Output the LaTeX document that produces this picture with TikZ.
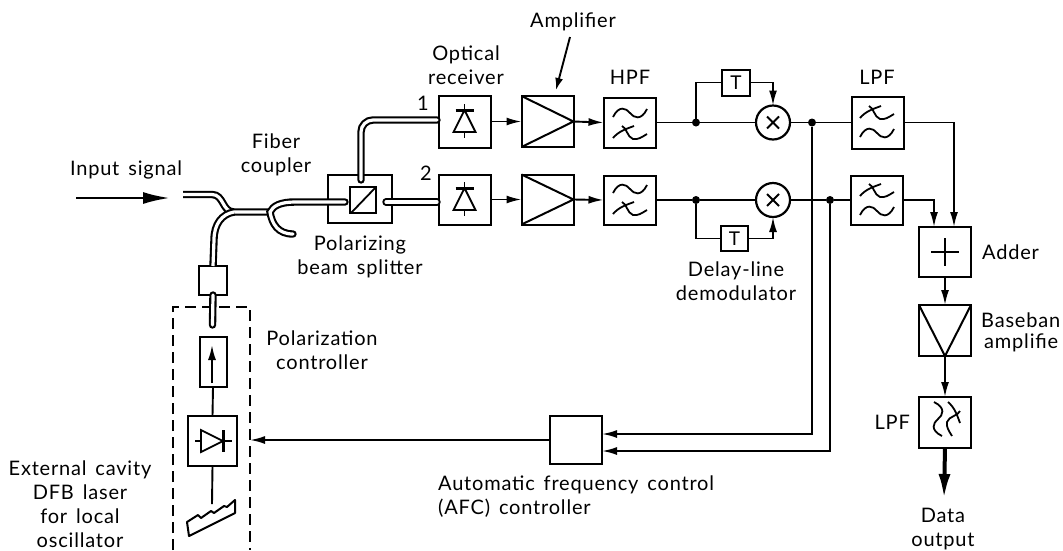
\documentclass[tikz,border=0pt]{standalone}
\usepackage{fontspec}
\setmainfont{Lato}[LetterSpace=4,WordSpace=1.5]
\usetikzlibrary{arrows.meta,calc}
\tikzset{
  x=1pt,y=-1pt,
  blk/.style={draw,line width=2pt,inner sep=0pt,outer sep=0pt,minimum width=#1},
  blk/.default=52pt,
  mix/.style={draw,circle,line width=2.2pt,inner sep=0pt,outer sep=0pt,minimum size=34pt},
  wire/.style={line width=1.9pt},
  sym/.style={line width=1.8pt},
  arr/.style={wire,-{Latex[length=15pt,width=8pt]}},
  dotn/.style={circle,fill=black,inner sep=0pt,outer sep=0pt,minimum size=8pt},
  fiber/.style={double=white,double distance=3.2pt,line width=2.1pt},
  fibercap/.style={fiber,line cap=round},
  lab/.style={font=\fontsize{20}{24}\selectfont,inner sep=0pt,align=center},
  dashbox/.style={line width=1.9pt,dash pattern=on 11pt off 6pt}
}
\newcommand{\rxsym}[2]{\begin{scope}[shift={(#1,#2)},sym]
  \draw (0,-18)--(0,16);
  \draw[fill=white] (-11,10)--(11,10)--(0,-12)--cycle;
  \draw[line width=3pt] (-9,-12)--(9,-12);
\end{scope}}
\newcommand{\wavesym}[2]{\begin{scope}[shift={(#1,#2)},sym]
  \draw (-17,4) .. controls (-11,-8) and (-4,-5) .. (0,0) .. controls (4,5) and (11,8) .. (17,-4);
\end{scope}}
\newcommand{\wavecross}[2]{\begin{scope}[shift={(#1,#2)},sym]
  \draw (-17,5) .. controls (-11,-2) and (-4,-4) .. (4,-7);
  \draw (-8,-7) .. controls (-3,-5) and (-3,4) .. (3,6) .. controls (8,7) and (12,4) .. (17,1);
\end{scope}}
\begin{document}
\begin{tikzpicture}
\useasboundingbox (0,0) rectangle (1063,550);
% --- blocks
\node[blk,minimum height=52pt] (rx1) at (464.5,121.5) {};
\node[blk,minimum height=51pt] (am1) at (547.5,121.5) {};
\node[blk,minimum height=50pt] (hp1) at (629.5,122.5) {};
\node[blk=28pt,minimum height=26pt,font=\fontsize{19}{19}\selectfont] (t1) at (736,82.5) {T};
\node[mix] (m1) at (773,122.5) {};
\node[blk,minimum height=52pt] (lp1) at (877.5,122.5) {};
\node[blk,minimum height=50pt] (rx2) at (464.5,199.5) {};
\node[blk,minimum height=50pt] (am2) at (547.5,199.5) {};
\node[blk,minimum height=49pt] (hp2) at (629.5,200) {};
\node[blk=27pt,minimum height=25pt,font=\fontsize{19}{19}\selectfont] (t2) at (734.5,238.5) {T};
\node[mix] (m2) at (773,200) {};
\node[blk,minimum height=49pt] (lp2) at (877,200) {};
\node[blk,minimum height=50pt] (add) at (945,252) {};
\node[blk,minimum height=51pt] (bb) at (945,330.5) {};
\node[blk,minimum height=51pt] (lp3) at (945,422.5) {};
\node[blk,minimum height=48pt] (afc) at (576,440) {};
\node[blk=64pt,minimum height=48pt] (pbs) at (360,199) {};
\node[blk=28pt,minimum height=29pt] (pc) at (213,280.5) {};
\node[blk=27pt,minimum height=50pt] (iso) at (213,362) {};
\node[blk=49pt,minimum height=50pt] (ld) at (212.5,441) {};
% --- junctions and free ends
\node[dotn] (j1) at (696,122.5) {};
\node[dotn] (j2) at (696,200) {};
\node[dotn] (j3) at (812,122.5) {};
\node[dotn] (j4) at (830,200) {};
\coordinate (m1n) at (773,105.5);
\coordinate (in1) at (76,198);
\coordinate (in2) at (170,198);
\coordinate (ampT) at (570,37);
\coordinate (ampH) at (556,90);
\coordinate (dashE) at (250,440);
\coordinate (grat) at (212,504);
\coordinate (fs) at (183,194.5);
\coordinate (fa) at (234,212);
\coordinate (fb) at (270,212);
\coordinate (fe) at (293,234);
\coordinate (fp) at (345,202);
\coordinate (f1) at (361,180);
\coordinate (f1c) at (361,120);
\coordinate (f1e) at (437,120);
\coordinate (f2) at (386,202);
\coordinate (f2e) at (437,202);
\coordinate (fo) at (212.5,325);
\coordinate (dout) at (944,499);
\coordinate (addA) at (954,227);
\coordinate (addB) at (934,227);
\coordinate (afcA) at (602,434);
\coordinate (afcB) at (602,451);
% --- dashed enclosure
\draw[dashbox] (173,550)--(173,307)--(250,307)--(250,550);
% --- fibres
\draw[fiber] (fs)--(212,194.5) .. controls (224,194.5) and (222,212) .. (fa)--(fb);
\draw[fiber] (pc.north) -- (214,240) .. controls (214,224) and (222,214) .. (fa);
\draw[fiber,line cap=round] (fe) .. controls (278,234) and (272,224) .. (fb) .. controls (273,206) and (280,202) .. (295,202)--(fp);
\draw[fibercap,rounded corners=12pt] (f1)--(f1c)--(f1e);
\draw[fibercap] (f2)--(f2e);
\draw[fibercap] (pc.south)--(fo);
% --- wires row 1
\draw[arr] (rx1.east)--(am1.west);
\draw[arr] (am1.east)--(hp1.west);
\draw[wire] (hp1.east)--(j1);
\draw[wire] (j1)--(m1.west);
\draw[wire] (j1)|-(t1.west);
\draw[arr] (t1.east)-|(m1n);
\draw[wire] (m1.east)--(j3);
\draw[wire] (j3)--(lp1.west);
% --- wires row 2
\draw[arr] (rx2.east)--(am2.west);
\draw[arr] (am2.east)--(hp2.west);
\draw[wire] (hp2.east)--(j2);
\draw[wire] (j2)--(m2.west);
\draw[wire] (j2)|-(t2.west);
\draw[arr] (t2.east)-|(m2.south);
\draw[wire] (m2.east)--(j4);
\draw[wire] (j4)--(lp2.west);
% --- right column
\draw[arr] (lp1.east)-|(addA);
\draw[arr] (lp2.east)-|(addB);
\draw[arr] (add.south)--(bb.north);
\draw[arr] (bb.south)--(lp3.north);
\draw[line width=4pt,-{Latex[length=25pt,width=12pt]}] (lp3.south)--(dout);
% --- AFC
\draw[arr] (j3)|-(afcA);
\draw[arr] (j4)|-(afcB);
\draw[arr] (afc.west)--(dashE);
% --- laser chain
\draw[wire] (iso.south)--(ld.north);
\draw[wire] (ld.south)--(grat);
% --- amplifier arrow and input arrow
\draw[line width=1.9pt,-{Latex[length=12pt,width=8pt]}] (ampT)--(ampH);
\draw[line width=2.6pt,-{Latex[length=27pt,width=12pt]}] (in1)--(in2);
% --- symbols
\rxsym{464.5}{122}\rxsym{464.5}{200}
\foreach \n in {am1,am2}{\draw[line width=2pt] (\n.north west)--(\n.east)--(\n.south west);}
\draw[line width=2pt] (bb.north west)--(bb.south)--(bb.north east);
\foreach \n in {m1,m2}{\draw[sym] ($(\n)+(-6,-6)$)--($(\n)+(6,6)$) ($(\n)+(6,-6)$)--($(\n)+(-6,6)$);}
\draw[line width=2pt] ($(add)+(-14,0)$)--($(add)+(14,0)$) ($(add)+(0,-14)$)--($(add)+(0,14)$);
\wavesym{630}{113}\wavecross{630}{133}
\wavesym{630}{189}\wavecross{630}{209}
\wavecross{877}{113}\wavesym{877}{133}
\wavecross{877}{191}\wavesym{877}{211}
\begin{scope}[shift={(945,422)},rotate=-90]
  \wavecross{-3}{-8}\wavesym{-3}{7}
\end{scope}
% PBS cube
\draw[line width=2.4pt] (350,187) rectangle (376,213);
\draw[line width=1.8pt] (351,213)--(376,187);
% isolator arrow
\draw[line width=1.9pt,-{Latex[length=15pt,width=8pt]}] (212,383)--(212,345);
% laser diode
\draw[sym] (195,441)--(232,441);
\draw[sym,fill=white] (201,430)--(223,441)--(201,452)--cycle;
\draw[line width=3pt] (223,430)--(223,452);
% grating
\draw[line width=2pt,line join=round] (187,522)--(198,515)--(201,518)--(211,511)--(214,513)--(224,506)--(227,507)--(235,500)--(235,513)--(189,536)--cycle;
% --- labels
\node[lab] (l1) at (126,170) {Input signal};
\node[lab] (l2) at (276,155) {Fiber\\coupler};
\node[lab] (l3) at (360,257) {Polarizing\\beam splitter};
\node[lab] (l4) at (466,65) {Optical\\receiver};
\node[lab] (l5) at (573,22) {Amplifier};
\node[lab] (l6) at (630,77) {HPF};
\node[lab] (l7) at (877,77) {LPF};
\node[lab] (l8) at (736,281) {Delay-line\\demodulator};
\node[lab,anchor=west] (l9) at (982,252) {Adder};
\node[lab,anchor=west] (l10) at (981,320) {Baseban};
\node[lab,anchor=west] (l11) at (984,343) {amplifie};
\node[lab,anchor=east] (l12) at (910,422) {LPF};
\node[lab] (l13) at (943,529) {Data\\output};
\node[lab] (l14) at (322,350) {Polarization\\controller};
\node[lab] (l15) at (80,504) {External cavity\\DFB laser\\for local\\oscillator};
\node[lab,anchor=west] (l16) at (438,485) {Automatic frequency control};
\node[lab,anchor=west] (l17) at (438,508) {(AFC) controller};
\node[lab] (l18) at (423,103) {1};
\node[lab] (l19) at (426,173) {2};
\end{tikzpicture}
\end{document}
